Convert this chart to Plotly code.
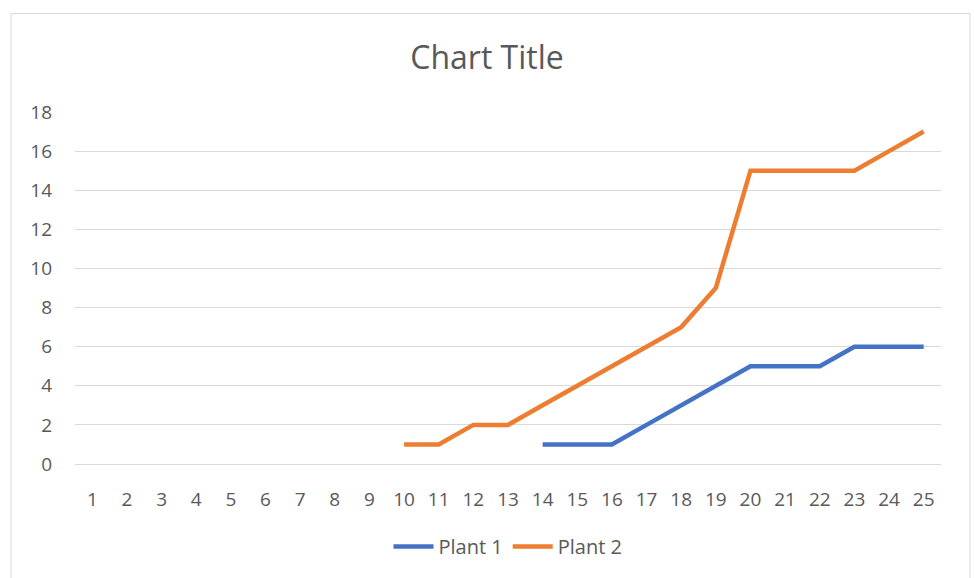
import plotly.graph_objects as go

categories = [str(i) for i in range(1, 26)]
plant1 = [None]*13 + [1, 1, 1, 2, 3, 4, 5, 5, 5, 6, 6, 6]
plant2 = [None]*9 + [1, 1, 2, 2, 3, 4, 5, 6, 7, 9, 15, 15, 15, 15, 16, 17]
y_ticks = list(range(0, 19, 2))

FONT = "Open Sans"
GREY = "#595959"

fig = go.Figure()
fig.add_trace(go.Scatter(x=categories, y=plant1, mode="lines", name="Plant 1",
                         line=dict(color="#4472C4", width=4.5)))
fig.add_trace(go.Scatter(x=categories, y=plant2, mode="lines", name="Plant 2",
                         line=dict(color="#ED7D31", width=4.5)))

L, R, T, B = 75, 33, 112, 112
W, H = 974, 578
pw, ph = W - L - R, H - T - B

def px(x):
    return (x - L) / pw

def py(y):
    return (H - B - y) / ph

fig.update_layout(
    width=W, height=H,
    margin=dict(l=L, r=R, t=T, b=B),
    paper_bgcolor="white", plot_bgcolor="white",
    font=dict(family=FONT, color=GREY, size=19),
    title=dict(text="Chart Title", x=0.5, xanchor="center", y=1 - 58 / H, yanchor="middle",
               font=dict(size=32, color=GREY, family=FONT)),
    showlegend=True,
    legend=dict(orientation="h", x=0.5, xanchor="center", y=py(549), yanchor="middle",
                font=dict(size=20, color=GREY), itemwidth=40),
    xaxis=dict(type="category", categoryorder="array", categoryarray=categories,
               showgrid=False, showline=True, linecolor="#d9d9d9", linewidth=1,
               ticks="", ticklabelstandoff=18, tickfont=dict(size=19, color=GREY),
               range=[-0.5, 24.5], fixedrange=True),
    yaxis=dict(range=[0, 18], tickvals=y_ticks, showgrid=True, gridcolor="#d9d9d9",
               gridwidth=1, zeroline=False, showline=False, ticks="",
               ticklabelstandoff=22, tickfont=dict(size=19, color=GREY)),
    shapes=[dict(type="rect", xref="paper", yref="paper",
                 x0=px(11), x1=px(970), y0=py(590), y1=py(13),
                 line=dict(color="#d9d9d9", width=1), fillcolor="rgba(0,0,0,0)", layer="below")],
)

fig.write_html("out.html")
